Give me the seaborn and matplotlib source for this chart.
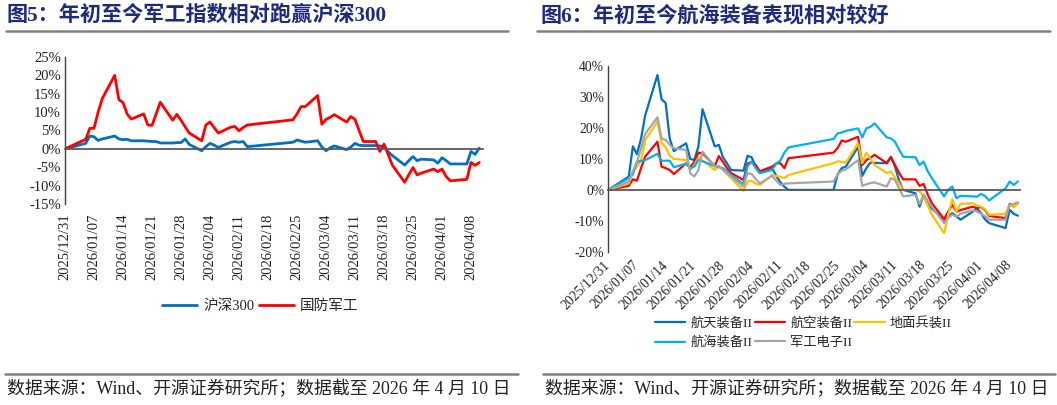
import pandas as pd
import matplotlib
matplotlib.use("Agg")
import matplotlib.pyplot as plt
import matplotlib.dates as mdates
from matplotlib.lines import Line2D
from matplotlib.ticker import FuncFormatter
import seaborn as sns

# trading days 2025/12/31 - 2026/04/10
dates = ["2025-12-31",
         "2026-01-05", "2026-01-06", "2026-01-07", "2026-01-08", "2026-01-09",
         "2026-01-12", "2026-01-13", "2026-01-14", "2026-01-15", "2026-01-16",
         "2026-01-19", "2026-01-20", "2026-01-21", "2026-01-22", "2026-01-23",
         "2026-01-26", "2026-01-27", "2026-01-28", "2026-01-29", "2026-01-30",
         "2026-02-02", "2026-02-03", "2026-02-04", "2026-02-05", "2026-02-06",
         "2026-02-09", "2026-02-10", "2026-02-11", "2026-02-12", "2026-02-13",
         "2026-02-24", "2026-02-25", "2026-02-26", "2026-02-27",
         "2026-03-02", "2026-03-03", "2026-03-04", "2026-03-05", "2026-03-06",
         "2026-03-09", "2026-03-10", "2026-03-11", "2026-03-12", "2026-03-13",
         "2026-03-16", "2026-03-17", "2026-03-18", "2026-03-19", "2026-03-20",
         "2026-03-23", "2026-03-24", "2026-03-25", "2026-03-26", "2026-03-27",
         "2026-03-30", "2026-03-31", "2026-04-01", "2026-04-02", "2026-04-03",
         "2026-04-07", "2026-04-08", "2026-04-09", "2026-04-10"]

# Fig 5 (%)
hs300 = [0, 1.5, 3.5, 3.3, 2.3, 2.7, 3.5, 2.7, 2.5, 2.6, 2.2, 2.2, 2.1, 2.0, 2.0, 1.6,
         1.6, 1.7, 1.7, 2.7, 1.2, -0.5, 0.6, 1.5, 1.0, 0.4, 1.8, 2.0, 1.8, 2.0, 0.6,
         1.8, 2.4, 2.1, 1.8, 2.2, 0.5, -0.5, 0.3, 0.8, -0.2, 0.5, 1.5, 1.0, 0.9,
         0.9, 0.8, 0.6, -0.8, -1.8, -4.4, -3.2, -2.1, -3.2, -2.8, -3.0, -3.9, -2.4,
         -3.2, -4.1, -4.1, -0.7, -1.5, 0.2]
defense = [0, 2.6, 5.6, 5.6, 10.0, 13.7, 20.0, 13.4, 12.6, 9.5, 8.1, 9.5, 6.5, 6.4, 9.5, 12.7,
           7.8, 9.4, 7.8, 6.0, 4.3, 2.2, 6.5, 7.3, 5.8, 4.3, 5.9, 6.1, 4.9, 5.8, 6.5,
           7.9, 9.5, 11.5, 11.5, 14.5, 6.7, 8.0, 8.6, 9.3, 7.3, 8.8, 8.0, 5.0, 2.0,
           2.0, -0.7, 1.3, -1.5, -4.4, -9.1, -7.0, -5.1, -7.1, -6.6, -5.5, -6.2, -5.5,
           -7.5, -8.7, -8.3, -3.7, -4.5, -3.7]

# Fig 6 (%)
aerospace = [0, 4.3, 14.0, 11.5, 16.5, 24.0, 37.0, 29.2, 28.0, 16.5, 12.5, 15.0, 10.0, 9.6, 14.0, 26.0,
             14.0, 14.5, 10.5, 8.5, 6.4, 6.2, 11.0, 10.5, 7.5, 5.4, 7.0, 4.5, 2.5, 1.0, 0.0,
             0.0, 5.0, 7.0, 7.5, 13.9, 4.5, 7.0, 8.8, 8.7, 8.6, 10.7, 7.5, 3.0, 0.0,
             -1.1, -5.4, -1.6, -4.0, -6.0, -9.6, -8.5, -7.5, -8.5, -9.6, -7.0, -6.0, -7.5,
             -9.5, -10.7, -12.3, -6.4, -7.7, -8.3]
aviation = [0, 1.3, 3.4, 3.0, 7.0, 10.7, 15.5, 7.5, 7.0, 6.4, 5.1, 8.6, 7.3, 9.0, 12.0, 11.8,
            7.7, 10.9, 9.0, 7.0, 5.4, 3.2, 8.5, 9.0, 8.0, 6.0, 7.5, 8.5, 8.6, 7.0, 10.2,
            12.0, 13.5, 15.9, 15.5, 17.1, 8.0, 9.6, 10.3, 11.3, 8.6, 10.5, 8.0, 5.5, 3.4,
            3.4, 1.3, 1.9, -1.5, -4.3, -9.4, -7.0, -4.8, -7.0, -6.5, -5.4, -5.9, -5.5,
            -6.5, -8.4, -9.1, -4.5, -5.4, -4.3]
ground = [0, 2.1, 6.0, 7.5, 9.6, 16.0, 22.0, 15.2, 13.7, 11.0, 10.0, 9.6, 6.4, 8.0, 10.4, 9.5,
          6.4, 7.7, 6.5, 5.0, 3.8, -0.3, 2.7, 3.0, 2.0, 1.6, 4.8, 4.5, 4.2, 3.8, 4.8,
          8.6, 9.2, 9.0, 8.8, 15.0, 8.6, 12.0, 10.0, 8.0, 5.4, 5.9, 4.0, 2.1, 0.0,
          0.0, -0.5, -2.1, -5.0, -8.0, -13.9, -8.0, -3.0, -7.0, -4.5, -4.3, -5.0, -5.4,
          -6.2, -8.0, -7.7, -4.8, -5.4, -4.5]
marine = [0, 3.8, 5.0, 9.1, 9.3, 9.6, 11.6, 9.4, 9.4, 9.4, 7.3, 8.4, 7.0, 7.5, 9.6, 9.2,
          7.7, 7.3, 7.0, 6.0, 4.8, 1.9, 7.7, 9.1, 7.0, 5.4, 6.4, 8.5, 9.4, 12.0, 13.7,
          16.4, 18.2, 18.5, 19.0, 19.8, 16.9, 19.8, 20.3, 21.4, 16.9, 16.6, 15.5, 13.0, 10.7,
          10.5, 8.0, 9.1, 6.0, 3.8, -2.1, 0.0, 1.1, -2.7, -1.9, -2.1, -2.2, -1.3,
          -2.0, -3.4, 0.5, 2.7, 1.6, 2.7]
electronics = [0, 2.7, 6.0, 9.0, 13.4, 18.0, 23.4, 16.6, 16.1, 14.5, 13.4, 12.9, 5.4, 4.3, 6.4, 12.3,
               7.5, 7.7, 6.5, 5.5, 4.3, 1.1, 5.4, 5.1, 3.5, 2.1, 4.5, 3.0, 1.6, 2.0, 2.1,
               2.7, 5.0, 6.2, 6.6, 9.6, 1.3, 1.8, 2.2, 2.4, 1.1, 3.8, 3.2, 0.5, -2.1,
               -1.6, -4.5, -1.6, -3.5, -5.4, -10.7, -9.0, -8.0, -8.6, -7.7, -6.6, -7.0, -7.7,
               -8.5, -9.6, -9.6, -4.8, -4.5, -4.0]

left_series = [("沪深300", hs300, "#0070C0"), ("国防军工", defense, "#FF0000")]
right_series = [("航天装备II", aerospace, "#0070C0"), ("航空装备II", aviation, "#FF0000"),
                ("地面兵装II", ground, "#FFC000"), ("航海装备II", marine, "#00B0F0"),
                ("军工电子II", electronics, "#A5A5A5")]

sns.set_style("white")
plt.rcParams['font.family'] = ['Liberation Serif', 'Noto Sans CJK SC']
plt.rcParams['axes.unicode_minus'] = False

x = pd.to_datetime(dates)
tick_dates = pd.date_range("2025-12-31", "2026-04-08", freq="7D")
xmin = pd.Timestamp("2025-12-31")

fig = plt.figure(figsize=(10.57, 4.05), dpi=100)
W, H = 1057, 405


def setup_axis(ax, ylo, yhi, step, xmax_days, rot, pad, fs):
    ax.set_xlim(xmin, xmin + pd.Timedelta(days=xmax_days))
    ax.set_ylim(ylo, yhi)
    ax.set_yticks(range(ylo, yhi + 1, step))
    ax.yaxis.set_major_formatter(FuncFormatter(lambda v, _: f"{v:.0f}%"))
    for s in ["top", "right"]:
        ax.spines[s].set_visible(False)
    ax.spines["left"].set_color("#404040")
    ax.spines["left"].set_linewidth(1.0)
    ax.spines["bottom"].set_position(("data", 0))
    ax.spines["bottom"].set_color("#595959")
    ax.spines["bottom"].set_linewidth(1.3)
    ax.set_xticks(tick_dates)
    ax.tick_params(axis="x", direction="in", length=5, color="#595959", labelbottom=False)
    ax.tick_params(axis="y", direction="in", length=4, color="#404040",
                   labelsize=fs, labelcolor="#222222", pad=3)
    ax.set_xlabel("")
    ax.set_ylabel("")
    sec = ax.secondary_xaxis("bottom")
    sec.set_xticks(mdates.date2num(tick_dates))
    sec.xaxis.set_major_formatter(mdates.DateFormatter("%Y/%m/%d"))
    sec.spines["bottom"].set_visible(False)
    sec.tick_params(length=0, pad=pad, labelsize=fs, labelcolor="#222222")
    if rot == 90:
        plt.setp(sec.get_xticklabels(), rotation=90, ha="center", va="top")
    else:
        plt.setp(sec.get_xticklabels(), rotation=45, ha="right", va="center",
                 rotation_mode="anchor")
    ax.grid(False)


# ---- left chart
ax1 = fig.add_axes([65 / W, 1 - 204 / H, 418 / W, 147 / H])
for name, vals, col in left_series:
    sns.lineplot(x=x, y=vals, ax=ax1, color=col, linewidth=2.0, label=name)
setup_axis(ax1, -15, 25, 5, 100.9, 90, 7, 10.5)
ax1.legend(loc="center", bbox_to_anchor=(260 / W, 1 - 306 / H), bbox_transform=fig.transFigure,
           ncol=2, frameon=False, fontsize=10.5, handlelength=2.4, handletextpad=0.4,
           columnspacing=0.3, borderpad=0, borderaxespad=0)

# ---- right chart
ax2 = fig.add_axes([608.3 / W, 1 - 252 / H, 412 / W, 186.3 / H])
for name, vals, col in right_series:
    sns.lineplot(x=x, y=vals, ax=ax2, color=col, linewidth=1.6, label=name)
setup_axis(ax2, -20, 40, 10, 100.6, 45, 8, 9.8)
h, l = ax2.get_legend_handles_labels()
order = [0, 3, 1, 4, 2]
ax2.legend([h[i] for i in order], [l[i] for i in order], loc="upper left",
           bbox_to_anchor=(655 / W, 1 - 317 / H), bbox_transform=fig.transFigure,
           ncol=3, frameon=False, fontsize=9.5, handlelength=2.3, handletextpad=0.4,
           columnspacing=0.15, labelspacing=0.5, borderpad=0, borderaxespad=0)

# ---- titles, rules, footers
navy = "#1F2A7C"
fig.text(7 / W, 1 - 16 / H, "图5：年初至今军工指数相对跑赢沪深300", fontsize=15.2,
         fontweight="bold", color=navy, va="center", ha="left")
fig.text(541 / W, 1 - 16 / H, "图6：年初至今航海装备表现相对较好", fontsize=15.2,
         fontweight="bold", color=navy, va="center", ha="left")
for x0, x1, yy in [(6, 508, 31), (537, 1050, 31), (5, 518, 374), (543, 1055, 374)]:
    fig.add_artist(Line2D([x0 / W, x1 / W], [1 - yy / H, 1 - yy / H], color="#808080",
                          linewidth=1.8, transform=fig.transFigure))
src = "数据来源：Wind、开源证券研究所；数据截至 2026 年 4 月 10 日"
fig.text(7 / W, 1 - 389 / H, src, fontsize=12.9, color="#222222", va="center", ha="left")
fig.text(545 / W, 1 - 389 / H, src, fontsize=12.9, color="#222222", va="center", ha="left")

fig.savefig("out.png", dpi=100)
